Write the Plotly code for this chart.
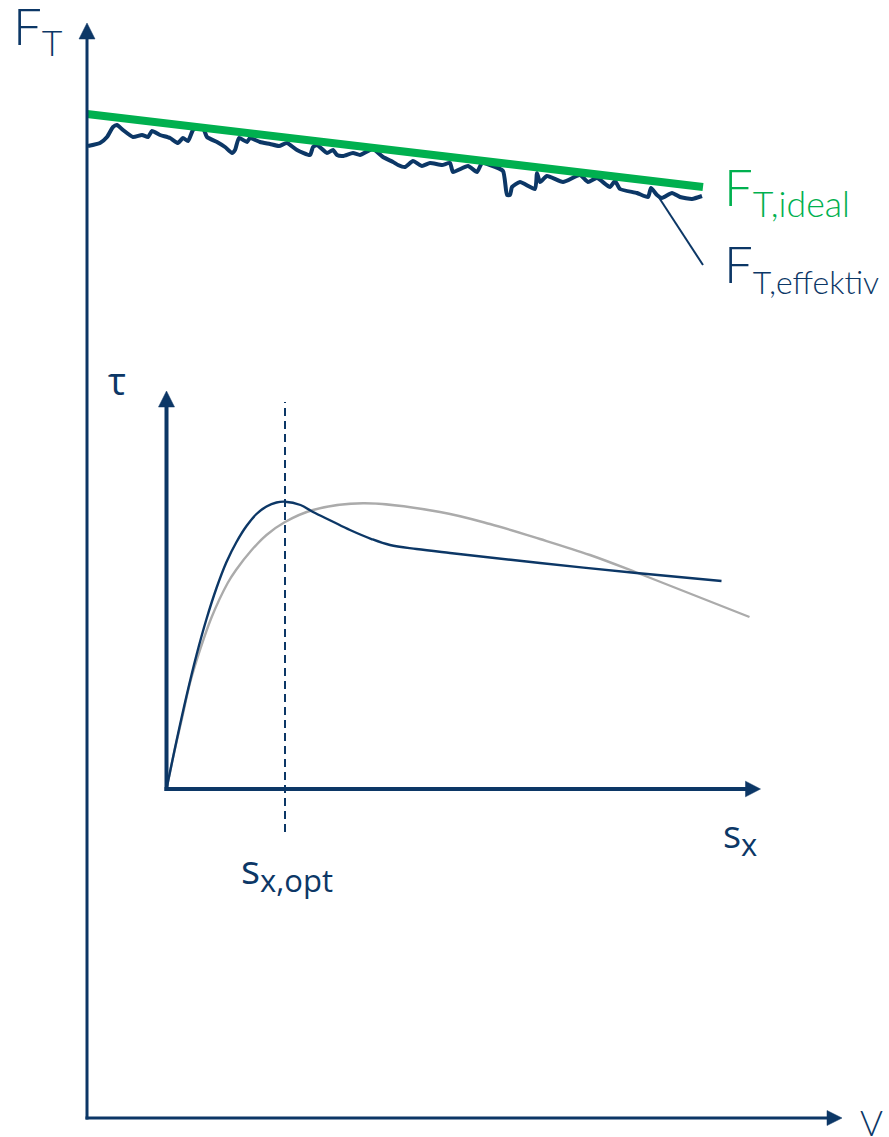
import plotly.graph_objects as go

# ---------------- data (arbitrary units) ----------------
# outer diagram: traction force F_T over speed V
v_ideal = [0, 616]
f_ideal = [1004, 931]

v_eff = [1, 13, 20, 26, 30, 36, 46, 55, 61, 65, 73, 83, 91, 96, 101, 106, 110, 116,
         120, 130, 138, 145, 148, 152, 160, 163, 173, 183, 192, 200, 210, 223, 226,
         230, 240, 246, 250, 256, 266, 273, 286, 296, 306, 311, 318, 326, 335, 343,
         355, 363, 366, 381, 390, 395, 403, 416, 420, 423, 425, 433, 448, 450, 453,
         460, 476, 493, 501, 510, 523, 528, 533, 550, 561, 564, 570, 575, 585, 593,
         605, 615]
f_eff = [972, 975, 981, 991, 993, 988, 981, 983, 981, 987, 983, 980, 975, 980, 977,
         988, 990, 990, 981, 976, 971, 965, 968, 980, 976, 980, 976, 974, 972, 975,
         968, 963, 971, 973, 965, 968, 963, 962, 965, 963, 969, 961, 956, 953, 951,
         957, 952, 955, 953, 955, 946, 952, 946, 955, 953, 947, 923, 923, 931, 936,
         929, 945, 936, 942, 936, 943, 936, 940, 931, 937, 929, 925, 921, 930, 923,
         920, 925, 921, 919, 922]

# leader line from the effective curve to its label
v_leader = [569, 616]
f_leader = [925, 853]

# inner diagram: tau over slip s_x
sx_eff = [0, 10, 20, 30, 40, 50, 60, 70, 80, 90, 100, 110, 118.5, 134, 146.5, 165,
          183.5, 205, 223.5, 250, 283.5, 373.5, 470, 555]
tau_eff = [0, 48, 93, 134, 170, 201, 227, 247, 263, 275, 282.5, 286.5, 287.3, 284,
           277, 268, 259, 250, 244, 240, 236, 226, 216, 208]

sx_ideal = [0, 8, 15.8, 23.5, 33.5, 45.2, 61.2, 69.5, 85.2, 100, 118.5, 146.5, 196.5,
            273.5, 323.5, 373.5, 423.5, 470, 583]
tau_ideal = [0, 38, 72, 106, 139, 172, 206, 219, 239, 254, 267, 279, 285.7, 277,
             265, 250, 234, 216.5, 172]

sx_opt = 118.5
tau_opt_span = [-43, 387]

NAVY = "#0c3766"
GREEN = "#00b04f"
GREY = "#ababab"
FONT_F = "Lato"
FONT_S = "Open Sans"

W, H = 889, 1137

fig = go.Figure()

# outer curves
fig.add_trace(go.Scatter(x=v_eff, y=f_eff, mode="lines", xaxis="x", yaxis="y",
                         line=dict(color=NAVY, width=4, shape="spline", smoothing=0.5),
                         hoverinfo="skip"))
fig.add_trace(go.Scatter(x=v_ideal, y=f_ideal, mode="lines", xaxis="x", yaxis="y",
                         line=dict(color=GREEN, width=8), hoverinfo="skip"))
fig.add_trace(go.Scatter(x=v_leader, y=f_leader, mode="lines", xaxis="x", yaxis="y",
                         line=dict(color=NAVY, width=2), hoverinfo="skip"))

# inner curves
fig.add_trace(go.Scatter(x=sx_ideal, y=tau_ideal, mode="lines", xaxis="x2", yaxis="y2",
                         line=dict(color=GREY, width=2.4, shape="spline", smoothing=1),
                         hoverinfo="skip"))
fig.add_trace(go.Scatter(x=sx_eff, y=tau_eff, mode="lines", xaxis="x2", yaxis="y2",
                         line=dict(color=NAVY, width=2.4, shape="spline", smoothing=1),
                         hoverinfo="skip"))
fig.add_trace(go.Scatter(x=[sx_opt, sx_opt], y=tau_opt_span, mode="lines", xaxis="x2",
                         yaxis="y2", line=dict(color=NAVY, width=2, dash="8px,5px"),
                         hoverinfo="skip"))

shapes = []


def arrow_axis(xr, yr, x0, y0, x1, y1, width, head_len, head_half):
    """axis line from (x0,y0) to tip (x1,y1) with a filled triangular head"""
    if x0 == x1:  # vertical, pointing up
        base = y1 - head_len
        shapes.append(dict(type="line", xref=xr, yref=yr, x0=x0, y0=y0, x1=x1, y1=base + 1,
                           line=dict(color=NAVY, width=width)))
        path = f"M {x1 - head_half},{base} L {x1 + head_half},{base} L {x1},{y1} Z"
    else:  # horizontal, pointing right
        base = x1 - head_len
        shapes.append(dict(type="line", xref=xr, yref=yr, x0=x0, y0=y0, x1=base + 1, y1=y1,
                           line=dict(color=NAVY, width=width)))
        path = f"M {base},{y1 - head_half} L {base},{y1 + head_half} L {x1},{y1} Z"
    shapes.append(dict(type="path", xref=xr, yref=yr, path=path,
                       fillcolor=NAVY, line=dict(color=NAVY, width=0.5)))


# outer axes (V, F_T)
arrow_axis("x", "y", 0, -1.5, 0, 1095, 3, 16, 8)
arrow_axis("x", "y", -1.5, 0, 755, 0, 3, 15, 7.5)
# inner axes (s_x, tau)
arrow_axis("x2", "y2", 0, -2, 0, 398, 4, 16, 8)
arrow_axis("x2", "y2", -2, 0, 594, 0, 4, 15, 7.8)

fig.update_layout(shapes=shapes)

ann = []


def label(px, py, text, color, size, family, weight="normal"):
    """place a text box whose top-left corner is at pixel (px, py)"""
    ann.append(dict(xref="paper", yref="paper", x=px / W, y=1 - py / H, text=text,
                    showarrow=False, xanchor="left", yanchor="top",
                    font=dict(family=family, size=size, color=color, weight=weight)))


label(11, -7, "F<sub>T</sub>", NAVY, 51, FONT_F, 300)
label(722, 154, "F<sub>T,ideal</sub>", GREEN, 51, FONT_F, 300)
label(722, 231, 'F<sub><span style="font-size:32px">T,effektiv</span></sub>', NAVY, 51,
      FONT_F, 300)
label(858, 1099, "V", NAVY, 35, FONT_F, 300)
label(106, 352, "τ", NAVY, 38, FONT_S)
label(721, 805, 's<sub><span style="font-size:31px">x</span></sub>', NAVY, 38, FONT_S)
label(239, 839, 's<sub><span style="font-size:31px">x,opt</span></sub>', NAVY, 40, FONT_S)

fig.update_layout(annotations=ann)

fig.update_layout(
    width=W, height=H, autosize=False,
    margin=dict(l=0, r=0, t=0, b=0, pad=0),
    paper_bgcolor="white", plot_bgcolor="white",
    showlegend=False,
    xaxis=dict(range=[-87, 802], domain=[0, 1], visible=False, fixedrange=True),
    yaxis=dict(range=[-19, 1118], domain=[0, 1], visible=False, fixedrange=True),
    xaxis2=dict(range=[-166.5, 722.5], domain=[0, 1], overlaying="x", anchor="y2",
                visible=False, fixedrange=True),
    yaxis2=dict(range=[-348, 789], domain=[0, 1], overlaying="y", anchor="x2",
                visible=False, fixedrange=True),
)

fig.write_html("out.html", config={"displayModeBar": False},
               post_script="document.body.style.margin='0';document.body.style.overflow='hidden';")
